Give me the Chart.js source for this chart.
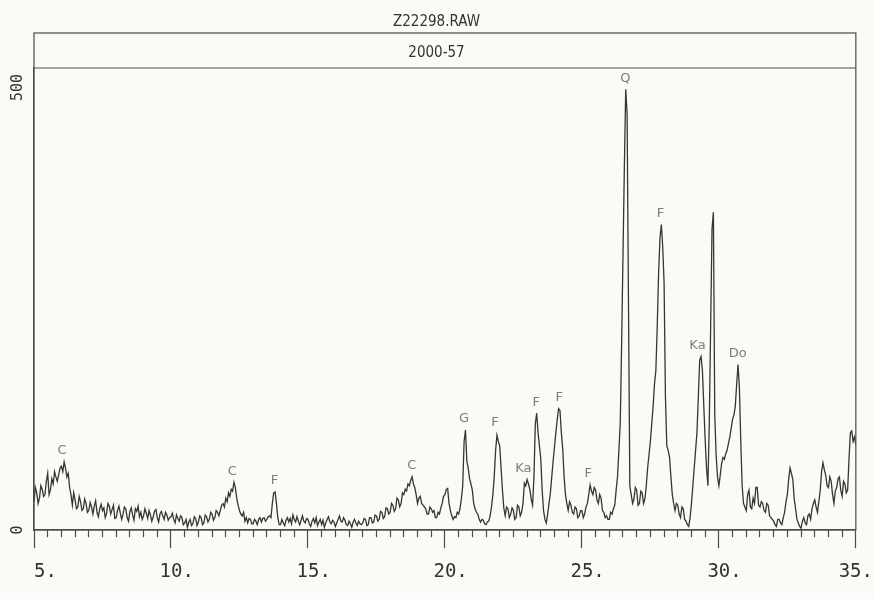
<!DOCTYPE html>
<html>
<head>
<meta charset="utf-8">
<title>Z22298.RAW</title>
<script src="https://cdn.jsdelivr.net/npm/chart.js@4.4.1/dist/chart.umd.min.js"></script>
<style>
  html, body { margin: 0; padding: 0; background: #fafaf7; }
  #xrd { display: block; }
</style>
</head>
<body>
<canvas id="xrd" width="873" height="599"></canvas>
<script>
// scan: 2-theta from 5 to 35 degrees
const startAngle = 5;
const stepAngle = 0.05;

// counts, one row per degree (x.00 .. x.95)
const counts = [
    32, 48, 42, 30, 36, 50, 46, 38, 40, 55, 64, 40, 45, 58, 52, 66, 60, 55, 62, 70,             // 5
    72, 66, 77, 70, 60, 64, 48, 40, 28, 42, 34, 24, 26, 38, 32, 22, 24, 35, 30, 20,             // 6
    22, 31, 26, 18, 27, 33, 20, 15, 24, 29, 22, 25, 14, 19, 30, 27, 18, 23, 28, 13,             // 7
    14, 22, 27, 19, 12, 18, 26, 24, 14, 10, 21, 25, 17, 11, 24, 21, 27, 15, 20, 12,             // 8
    16, 24, 19, 13, 22, 17, 10, 15, 21, 23, 14, 9, 18, 21, 16, 12, 20, 17, 11, 14,              // 9
    15, 19, 12, 8, 17, 13, 10, 16, 14, 6, 8, 12, 3, 9, 12, 5, 7, 15, 13, 5,                     // 10
    9, 16, 14, 6, 8, 17, 15, 9, 12, 20, 18, 11, 14, 22, 20, 16, 22, 28, 30, 26,                 // 11
    36, 32, 42, 38, 46, 44, 54, 48, 36, 28, 22, 18, 16, 20, 10, 14, 8, 13, 12, 7,               // 12
    7, 12, 10, 6, 12, 14, 9, 13, 14, 10, 12, 15, 16, 14, 30, 42, 43, 30, 14, 6,                 // 13
    6, 12, 8, 5, 11, 14, 9, 13, 7, 17, 12, 9, 15, 10, 6, 11, 16, 10, 8, 13,                     // 14
    12, 7, 4, 10, 13, 8, 14, 5, 9, 12, 6, 11, 3, 8, 12, 15, 9, 7, 11, 9,                        // 15
    4, 8, 12, 16, 10, 9, 14, 11, 6, 5, 10, 7, 3, 9, 12, 8, 5, 10, 7, 6,                         // 16
    8, 13, 12, 5, 6, 14, 14, 8, 9, 17, 16, 10, 12, 21, 20, 13, 15, 25, 24, 18,                  // 17
    20, 30, 28, 21, 24, 36, 34, 26, 30, 42, 40, 46, 44, 52, 50, 56, 60, 52, 48, 40,             // 18
    30, 36, 38, 30, 28, 26, 24, 18, 18, 26, 24, 20, 22, 14, 14, 20, 18, 25, 30, 38,             // 19
    40, 46, 47, 30, 22, 16, 12, 15, 14, 20, 18, 24, 35, 50, 100, 113, 78, 70, 58, 52,           // 20
    45, 30, 24, 20, 18, 12, 9, 12, 11, 7, 6, 9, 10, 16, 26, 40, 60, 90, 107, 100,               // 21
    95, 70, 45, 25, 16, 26, 24, 14, 18, 25, 22, 12, 14, 28, 26, 16, 20, 30, 53, 50,             // 22
    57, 52, 46, 35, 28, 60, 120, 132, 110, 95, 80, 45, 22, 12, 8, 18, 30, 42, 60, 78,           // 23
    94, 110, 125, 137, 135, 110, 92, 60, 40, 30, 22, 32, 28, 20, 18, 26, 24, 14, 16, 22,        // 24
    22, 14, 18, 26, 30, 40, 51, 44, 40, 48, 45, 34, 30, 40, 36, 22, 20, 14, 16, 12,             // 25
    12, 20, 18, 24, 28, 45, 60, 90, 120, 210, 310, 410, 498, 470, 260, 50, 40, 30, 35, 48,      // 26
    45, 28, 30, 44, 42, 30, 35, 50, 70, 85, 100, 120, 140, 165, 180, 230, 290, 330, 345, 320,   // 27
    280, 150, 95, 90, 82, 60, 40, 30, 22, 30, 28, 18, 14, 26, 24, 12, 10, 6, 4, 14,             // 28
    30, 50, 70, 90, 110, 150, 192, 196, 180, 140, 102, 70, 50, 120, 230, 340, 359, 130, 85, 60, // 29
    50, 62, 75, 82, 80, 86, 90, 98, 105, 115, 125, 130, 140, 165, 187, 160, 100, 50, 30, 26,    // 30
    22, 40, 45, 26, 24, 36, 30, 48, 48, 28, 26, 32, 30, 22, 20, 30, 28, 16, 14, 12,             // 31
    10, 6, 4, 12, 12, 8, 6, 14, 20, 32, 40, 58, 70, 64, 57, 35, 24, 12, 8, 4,                   // 32
    2, 10, 14, 8, 6, 16, 18, 12, 24, 30, 34, 26, 20, 32, 45, 66, 76, 68, 62, 50,                // 33
    48, 60, 55, 40, 30, 44, 48, 58, 60, 45, 38, 55, 52, 42, 45, 80, 110, 112, 100, 105,         // 34
    96                                                                                          // 35
];

// axes
const xMin = 5;
const xMax = 35;
const xMajorStep = 5;
const xMinorStep = 0.5;
const yMax = 522;
const yTicks = [0, 500];

// phase marks over the peaks
const peakNames  = ['C', 'C', 'F', 'C', 'G', 'F', 'Ka', 'F', 'F', 'F', 'Q', 'F', 'Ka', 'Do'];
const peakAngles = [6.02, 12.24, 13.78, 18.79, 20.7, 21.83, 22.86, 23.33, 24.17, 25.23, 26.59, 27.87, 29.22, 30.69];
const peakCounts = [77, 54, 43, 60, 113, 109, 57, 132, 137, 51, 498, 345, 196, 187];

document.addEventListener('DOMContentLoaded', () => {
    const ink = '#39342f';
    const axisInk = '#4a4a4a';
    const plotterFont = "'DejaVu Sans Mono', 'Liberation Mono', monospace";
    const titleFont = "'DejaVu Sans Condensed', 'DejaVu Sans', sans-serif";

    const points = counts.map((c, i) => ({
        x: +(startAngle + i * stepAngle).toFixed(2),
        y: c
    }));

    // ------------------------------
    // paper colour behind everything
    // ------------------------------
    const paper = {
        id: 'paper',
        beforeDraw(chart) {
            const ctx = chart.ctx;
            ctx.save();
            ctx.fillStyle = '#fafaf7';
            ctx.fillRect(0, 0, chart.width, chart.height);
            ctx.restore();
        }
    };

    // ------------------------------
    // box round header and plot
    // ------------------------------
    const frame = {
        id: 'frame',
        afterDraw(chart) {
            const { ctx, chartArea } = chart;
            const top = chart.titleBlock ? chart.titleBlock.bottom : chartArea.top;
            ctx.save();
            ctx.strokeStyle = axisInk;
            ctx.lineWidth = 1.2;
            ctx.strokeRect(chartArea.left, top, chartArea.right - chartArea.left, chartArea.bottom - top);
            ctx.beginPath();
            ctx.moveTo(chartArea.left, chartArea.top);
            ctx.lineTo(chartArea.right, chartArea.top);
            ctx.stroke();
            ctx.restore();
        }
    };

    // ------------------------------
    // peak labels
    // ------------------------------
    const peakMarks = {
        id: 'peakMarks',
        afterDatasetsDraw(chart) {
            const { ctx, scales } = chart;
            ctx.save();
            ctx.font = "13px 'DejaVu Sans', sans-serif";
            ctx.fillStyle = '#7c7c7c';
            ctx.textAlign = 'center';
            ctx.textBaseline = 'middle';
            peakNames.forEach((name, i) => {
                const px = scales.x.getPixelForValue(peakAngles[i]);
                const py = scales.y.getPixelForValue(peakCounts[i]) - 11;
                ctx.fillText(name, px, py);
            });
            ctx.restore();
        }
    };

    // tick label text, padded so the number sits a little right of its tick
    const xLabel = v => {
        if (v % xMajorStep !== 0) return '';
        if (v === xMax) return v + '.';
        return (v < 10 ? '  ' : ' ') + v + '.';
    };

    new Chart(document.getElementById('xrd'), {
        type: 'line',
        data: {
            datasets: [{
                data: points,
                borderColor: ink,
                borderWidth: 1.3,
                pointRadius: 0,
                tension: 0,
                fill: false
            }]
        },
        options: {
            responsive: false,
            animation: false,
            layout: { padding: { left: 10, right: 10, top: 0, bottom: 0 } },
            plugins: {
                legend: { display: false },
                tooltip: { enabled: false },
                title: {
                    display: true,
                    text: 'Z22298.RAW',
                    color: '#333',
                    font: { family: titleFont, size: 15, weight: 'normal', lineHeight: 1.2 },
                    padding: { top: 13, bottom: 2 }
                },
                subtitle: {
                    display: true,
                    text: '2000-57',
                    color: '#333',
                    font: { family: titleFont, size: 15, weight: 'normal', lineHeight: 1.2 },
                    padding: { top: 11, bottom: 6 }
                }
            },
            scales: {
                x: {
                    type: 'linear',
                    min: xMin,
                    max: xMax,
                    grid: {
                        drawOnChartArea: false,
                        drawTicks: true,
                        tickLength: 31,
                        tickWidth: 1.2,
                        tickColor: axisInk,
                        // long marks every 5 degrees, short every half degree
                        tickBorderDash: c => (c.tick && c.tick.value % xMajorStep === 0) ? [18, 60] : [7, 60]
                    },
                    border: { display: true, color: axisInk, width: 1.2 },
                    ticks: {
                        stepSize: xMinorStep,
                        autoSkip: false,
                        maxRotation: 0,
                        padding: 0,
                        color: '#333',
                        font: { family: plotterFont, size: 19 },
                        callback: xLabel
                    },
                    afterFit: s => { s.height = 69; }
                },
                y: {
                    min: 0,
                    max: yMax,
                    grid: { drawOnChartArea: false, drawTicks: false },
                    border: { display: true, color: axisInk, width: 1.2 },
                    ticks: {
                        color: '#333',
                        font: { family: plotterFont, size: 15 },
                        minRotation: 90,
                        maxRotation: 90,
                        crossAlign: 'center',
                        padding: 2
                    },
                    afterBuildTicks: s => { s.ticks = yTicks.map(v => ({ value: v })); },
                    afterFit: s => { s.width = 24; }
                }
            }
        },
        plugins: [paper, frame, peakMarks]
    });
});
</script>
</body>
</html>
